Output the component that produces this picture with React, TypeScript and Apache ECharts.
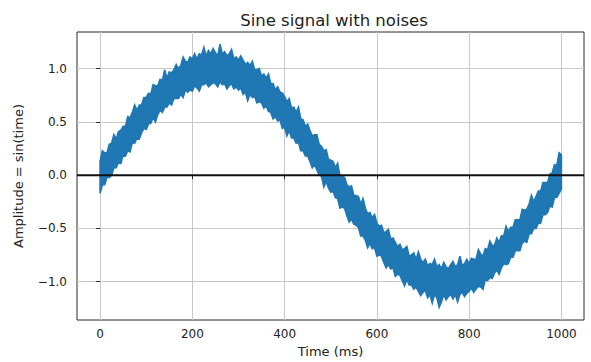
import React, { useEffect, useRef } from "react";
import * as echarts from "echarts";

// ---- data ----
const TITLE = "Sine signal with noises";
const X_NAME = "Time (ms)";
const Y_NAME = "Amplitude = sin(time)";
const X_TICKS = [0, 200, 400, 600, 800, 1000];
const Y_TICKS = [-1.0, -0.5, 0.0, 0.5, 1.0];
const X_MIN = -50;
const X_MAX = 1049;
const Y_MIN = -1.36;
const Y_MAX = 1.345;
const ZERO_LEVEL = 0;
const SAMPLE_STEP_MS = 5;

// upper edge of the noisy band, one value every 5 ms from 0 to 1000 ms
const UPPER_EDGE = [
  0.13, 0.23, 0.21, 0.21, 0.29, 0.30, 0.38, 0.34, 0.41, 0.42,
  0.46, 0.46, 0.55, 0.54, 0.59, 0.66, 0.61, 0.66, 0.66, 0.73,
  0.73, 0.77, 0.76, 0.85, 0.84, 0.84, 0.90, 0.89, 0.99, 0.91,
  0.97, 0.96, 0.99, 1.04, 1.00, 1.03, 1.11, 1.07, 1.06, 1.11,
  1.09, 1.14, 1.09, 1.14, 1.13, 1.20, 1.12, 1.17, 1.14, 1.19,
  1.15, 1.12, 1.23, 1.14, 1.16, 1.12, 1.14, 1.18, 1.09, 1.11,
  1.08, 1.12, 1.08, 1.04, 1.06, 1.03, 1.07, 0.99, 0.99, 1.00,
  0.93, 0.95, 0.91, 0.95, 0.86, 0.86, 0.80, 0.83, 0.78, 0.77,
  0.74, 0.69, 0.72, 0.63, 0.64, 0.59, 0.64, 0.53, 0.52, 0.46,
  0.48, 0.42, 0.37, 0.38, 0.38, 0.29, 0.27, 0.23, 0.24, 0.15,
  0.14, 0.13, 0.07, 0.11, -0.01, -0.01, -0.02, -0.09, -0.11, -0.10,
  -0.19, -0.19, -0.20, -0.27, -0.22, -0.31, -0.36, -0.35, -0.40, -0.37,
  -0.45, -0.48, -0.47, -0.54, -0.53, -0.51, -0.60, -0.59, -0.63, -0.67,
  -0.65, -0.70, -0.69, -0.67, -0.76, -0.75, -0.73, -0.79, -0.72, -0.79,
  -0.82, -0.79, -0.85, -0.83, -0.84, -0.79, -0.86, -0.84, -0.88, -0.82,
  -0.86, -0.88, -0.84, -0.81, -0.86, -0.84, -0.76, -0.85, -0.83, -0.79,
  -0.83, -0.78, -0.79, -0.79, -0.70, -0.74, -0.76, -0.69, -0.70, -0.62,
  -0.66, -0.66, -0.59, -0.63, -0.57, -0.57, -0.48, -0.53, -0.49, -0.49,
  -0.42, -0.42, -0.42, -0.32, -0.33, -0.32, -0.27, -0.19, -0.25, -0.20,
  -0.15, -0.15, -0.07, -0.07, -0.07, 0.01, 0.02, 0.10, 0.09, 0.21, 0.19,
];

// lower edge of the noisy band, same sampling
const LOWER_EDGE = [
  -0.17, -0.09, -0.09, -0.02, -0.02, 0.00, 0.07, 0.07, 0.12, 0.11,
  0.19, 0.18, 0.23, 0.22, 0.31, 0.30, 0.35, 0.34, 0.40, 0.44,
  0.43, 0.48, 0.49, 0.54, 0.50, 0.57, 0.61, 0.59, 0.64, 0.64,
  0.68, 0.66, 0.72, 0.72, 0.72, 0.76, 0.73, 0.80, 0.78, 0.80,
  0.79, 0.84, 0.82, 0.79, 0.85, 0.85, 0.87, 0.83, 0.85, 0.87,
  0.86, 0.83, 0.88, 0.85, 0.86, 0.81, 0.84, 0.86, 0.81, 0.83,
  0.80, 0.82, 0.76, 0.78, 0.70, 0.76, 0.73, 0.74, 0.68, 0.69,
  0.68, 0.63, 0.65, 0.60, 0.59, 0.53, 0.55, 0.51, 0.52, 0.44,
  0.45, 0.37, 0.42, 0.35, 0.35, 0.30, 0.31, 0.23, 0.23, 0.18,
  0.18, 0.13, 0.07, 0.10, 0.05, 0.00, -0.01, -0.11, -0.06, -0.12,
  -0.16, -0.15, -0.21, -0.22, -0.31, -0.30, -0.31, -0.38, -0.44, -0.41,
  -0.46, -0.47, -0.49, -0.57, -0.57, -0.61, -0.68, -0.64, -0.69, -0.68,
  -0.76, -0.75, -0.76, -0.82, -0.87, -0.84, -0.88, -0.87, -0.95, -0.93,
  -0.94, -0.99, -1.04, -0.98, -1.03, -1.03, -1.07, -1.05, -1.09, -1.13,
  -1.10, -1.08, -1.15, -1.12, -1.20, -1.12, -1.15, -1.24, -1.19, -1.12,
  -1.17, -1.14, -1.12, -1.16, -1.12, -1.19, -1.12, -1.10, -1.14, -1.11,
  -1.09, -1.06, -1.10, -1.07, -1.04, -1.05, -1.07, -0.98, -0.99, -0.96,
  -0.97, -0.92, -0.89, -0.93, -0.87, -0.83, -0.84, -0.83, -0.77, -0.77,
  -0.71, -0.71, -0.71, -0.64, -0.62, -0.63, -0.55, -0.55, -0.50, -0.50,
  -0.45, -0.45, -0.37, -0.37, -0.35, -0.29, -0.30, -0.21, -0.21, -0.17, -0.13,
];

const TIME_MS = UPPER_EDGE.map((_, i) => i * SAMPLE_STEP_MS);

const SIGNAL_COLOR = "#1f77b4";
const TEXT_COLOR = "#222222";
const FONT = "DejaVu Sans";

const fmtY = (v: number) => (v < 0 ? "\u2212" : "") + Math.abs(v).toFixed(1);
const fmtX = (v: number) => String(Math.round(v));

export default function App() {
  const ref = useRef<HTMLDivElement>(null);

  useEffect(() => {
    if (!ref.current) return;
    const chart = echarts.init(ref.current, null, { renderer: "svg" });
    const option: any = {
      animation: false,
      backgroundColor: "#ffffff",
      title: {
        text: TITLE,
        left: 329,
        top: 7,
        textAlign: "center",
        textStyle: {
          fontFamily: FONT,
          fontSize: 16.5,
          fontWeight: "normal",
          color: TEXT_COLOR,
        },
      },
      grid: {
        left: 77,
        top: 32,
        width: 507,
        height: 288,
        show: true,
        borderColor: "#2a2a2a",
        borderWidth: 1,
        containLabel: false,
        outerBoundsMode: "none",
      },
      xAxis: {
        type: "value",
        min: X_MIN,
        max: X_MAX,
        name: X_NAME,
        nameLocation: "middle",
        nameGap: 25,
        nameTextStyle: { fontFamily: FONT, fontSize: 13, color: TEXT_COLOR },
        axisLine: { show: false },
        axisTick: {
          show: true,
          length: 4,
          customValues: X_TICKS,
          lineStyle: { color: "#2a2a2a", width: 1 },
        },
        axisLabel: {
          customValues: X_TICKS,
          margin: 8,
          fontFamily: FONT,
          fontSize: 12,
          color: TEXT_COLOR,
          formatter: fmtX,
        },
        splitLine: { show: true, lineStyle: { color: "#c8c8c8", width: 1 } },
      },
      yAxis: {
        type: "value",
        min: Y_MIN,
        max: Y_MAX,
        name: Y_NAME,
        nameLocation: "middle",
        nameGap: 52,
        nameRotate: 90,
        nameTextStyle: { fontFamily: FONT, fontSize: 13, color: TEXT_COLOR },
        axisLine: { show: false },
        axisTick: {
          show: true,
          length: 4,
          customValues: Y_TICKS,
          lineStyle: { color: "#2a2a2a", width: 1 },
        },
        axisLabel: {
          customValues: Y_TICKS,
          margin: 10,
          fontFamily: FONT,
          fontSize: 12,
          color: TEXT_COLOR,
          formatter: fmtY,
        },
        splitLine: { show: true, lineStyle: { color: "#c8c8c8", width: 1 } },
      },
      series: [
        {
          type: "custom",
          name: "signal",
          z: 3,
          data: [[TIME_MS[0], ZERO_LEVEL]],
          encode: { x: 0, y: 1 },
          renderItem: (_params: any, api: any) => {
            const pts: number[][] = [];
            for (let i = 0; i < TIME_MS.length; i++) {
              pts.push(api.coord([TIME_MS[i], UPPER_EDGE[i]]));
            }
            for (let i = TIME_MS.length - 1; i >= 0; i--) {
              pts.push(api.coord([TIME_MS[i], LOWER_EDGE[i]]));
            }
            return {
              type: "polygon",
              shape: { points: pts },
              style: {
                fill: SIGNAL_COLOR,
                stroke: SIGNAL_COLOR,
                lineWidth: 1.6,
                lineJoin: "miter",
                miterLimit: 4,
              },
            };
          },
        },
        {
          type: "line",
          name: "zero",
          z: 5,
          symbol: "none",
          silent: true,
          data: [
            [X_MIN, ZERO_LEVEL],
            [X_MAX, ZERO_LEVEL],
          ],
          lineStyle: { color: "#111111", width: 2 },
        },
      ],
    };
    chart.setOption(option);
    return () => chart.dispose();
  }, []);

  return (
    <div
      ref={ref}
      style={{
        position: "absolute",
        left: 0,
        top: 0,
        width: 591,
        height: 362,
        background: "#ffffff",
      }}
    />
  );
}
